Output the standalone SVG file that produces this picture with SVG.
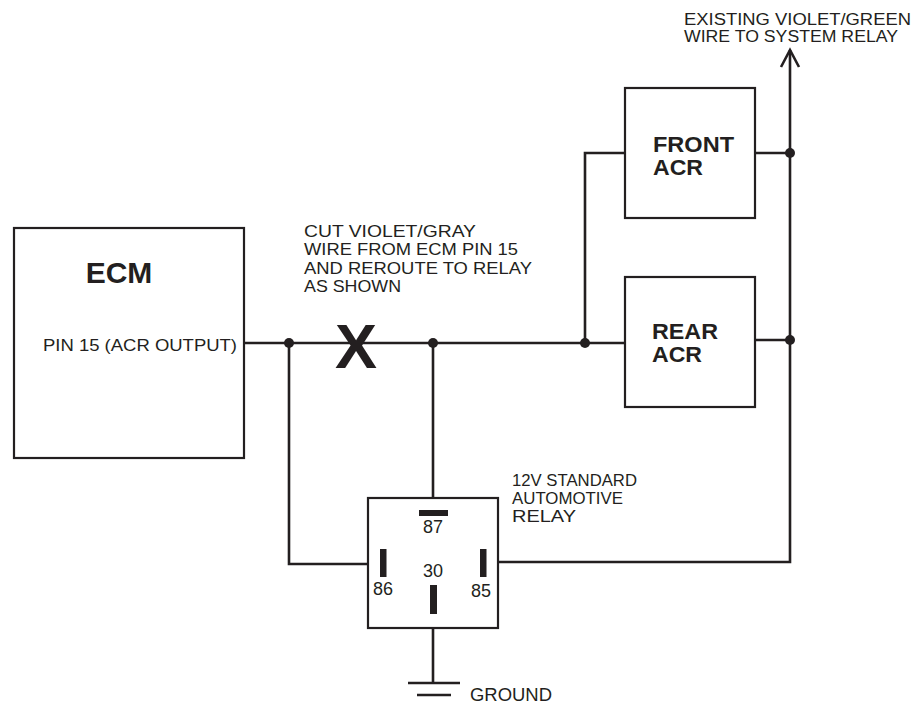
<svg xmlns="http://www.w3.org/2000/svg" width="914" height="706" viewBox="0 0 914 706">
<style>
.box{fill:#fff;stroke:#231f20;stroke-width:2.2}
.w{fill:none;stroke:#231f20;stroke-width:2.6;stroke-linecap:butt;stroke-linejoin:miter}
.dot{fill:#231f20}
.pin{fill:#231f20}
.t{font-family:"Liberation Sans",Arial,sans-serif;font-size:17px;fill:#231f20}
.n{font-family:"Liberation Sans",Arial,sans-serif;font-size:18px;fill:#231f20}
.b{font-family:"Liberation Sans",Arial,sans-serif;font-weight:bold;fill:#231f20}
</style>
<rect width="914" height="706" fill="#fff"/>
<g id="connectors">
<path class="w" d="M244,343 H625"/>
<path class="w" d="M289,343 V564 H380"/>
<path class="w" d="M433,343 V511"/>
<path class="w" d="M585,343 V153 H625"/>
<path class="w" d="M755,153 H790"/>
<path class="w" d="M755,340 H790"/>
<path class="w" d="M790,50 V562 H487"/>
<path class="w" d="M781,67 L790,50 L799,67"/>
<path class="w" d="M433,614 V683"/>
<path class="w" d="M408,683 H460"/>
<path class="w" d="M417,695 H451"/>
<circle class="dot" cx="289" cy="343" r="5"/>
<circle class="dot" cx="433" cy="343" r="5"/>
<circle class="dot" cx="585" cy="343" r="5"/>
<circle class="dot" cx="790" cy="153" r="5"/>
<circle class="dot" cx="790" cy="340" r="5"/>
<text class="b" x="356" y="368" font-size="63" text-anchor="middle">X</text>
</g>
<g id="ecm">
<rect class="box" x="14" y="228" width="230" height="230"/>
<text class="b" x="119" y="283" font-size="30" text-anchor="middle">ECM</text>
<text class="t" x="43" y="351" textLength="194" lengthAdjust="spacingAndGlyphs">PIN 15 (ACR OUTPUT)</text>
</g>
<g id="front-acr">
<rect class="box" x="625" y="88" width="130" height="130"/>
<text class="b" x="653" y="151.5" font-size="22" textLength="81" lengthAdjust="spacingAndGlyphs">FRONT</text>
<text class="b" x="653" y="174.5" font-size="22" textLength="50" lengthAdjust="spacingAndGlyphs">ACR</text>
</g>
<g id="rear-acr">
<rect class="box" x="625" y="277" width="130" height="130"/>
<text class="b" x="652" y="339" font-size="22" textLength="66" lengthAdjust="spacingAndGlyphs">REAR</text>
<text class="b" x="652" y="362" font-size="22" textLength="50" lengthAdjust="spacingAndGlyphs">ACR</text>
</g>
<g id="relay">
<rect class="box" x="368" y="498" width="130" height="130"/>
<rect class="pin" x="419" y="510" width="29" height="6"/>
<rect class="pin" x="380" y="549" width="6.5" height="28"/>
<rect class="pin" x="480" y="549" width="6.5" height="28"/>
<rect class="pin" x="430" y="585" width="7" height="29"/>
<text class="n" x="433" y="533" text-anchor="middle">87</text>
<text class="n" x="383" y="595" text-anchor="middle">86</text>
<text class="n" x="481" y="597" text-anchor="middle">85</text>
<text class="n" x="433" y="577" text-anchor="middle">30</text>
</g>
<g id="labels">
<text class="t" x="684" y="25" textLength="227" lengthAdjust="spacingAndGlyphs" style="font-size:16px">EXISTING VIOLET/GREEN</text>
<text class="t" x="684" y="42" textLength="214" lengthAdjust="spacingAndGlyphs" style="font-size:16px">WIRE TO SYSTEM RELAY</text>
<text class="t" x="304" y="237" textLength="172" lengthAdjust="spacingAndGlyphs">CUT VIOLET/GRAY</text>
<text class="t" x="304" y="255" textLength="214" lengthAdjust="spacingAndGlyphs">WIRE FROM ECM PIN 15</text>
<text class="t" x="304" y="274" textLength="228" lengthAdjust="spacingAndGlyphs">AND REROUTE TO RELAY</text>
<text class="t" x="304" y="292" textLength="97" lengthAdjust="spacingAndGlyphs">AS SHOWN</text>
<text class="t" x="512" y="486" textLength="125" lengthAdjust="spacingAndGlyphs">12V STANDARD</text>
<text class="t" x="512" y="504" textLength="111" lengthAdjust="spacingAndGlyphs">AUTOMOTIVE</text>
<text class="t" x="512" y="522" textLength="64" lengthAdjust="spacingAndGlyphs">RELAY</text>
<text class="t" x="470" y="701" textLength="82" lengthAdjust="spacingAndGlyphs" style="font-size:18px">GROUND</text>
</g>
</svg>
